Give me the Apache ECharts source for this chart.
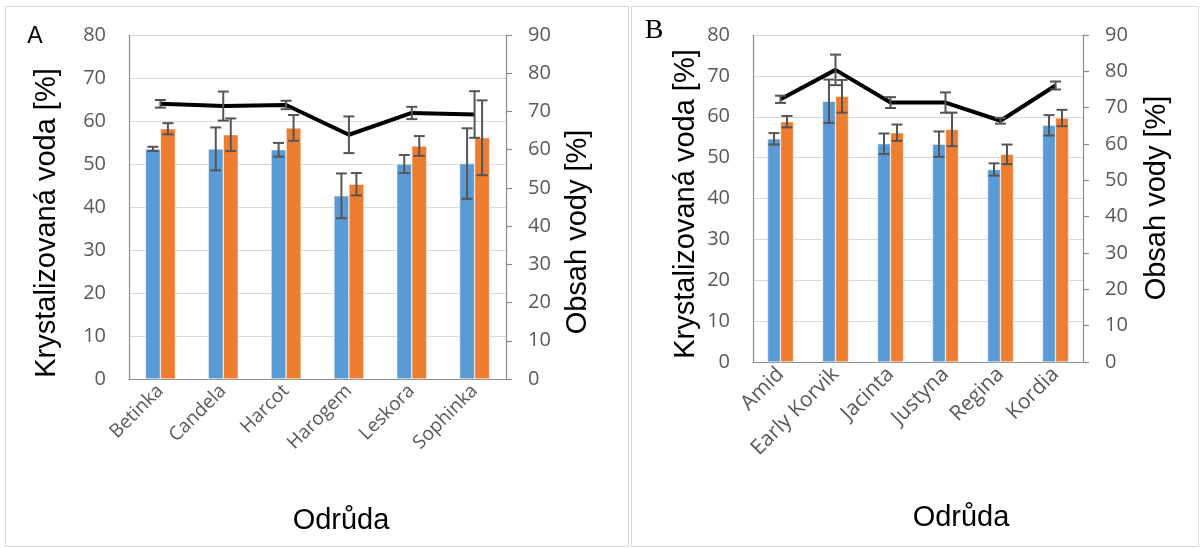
<!DOCTYPE html>
<html>
<head>
<meta charset="utf-8">
<script src="https://cdn.jsdelivr.net/npm/echarts@6/dist/echarts.min.js"></script>
<style>
html,body{margin:0;padding:0;background:#fff;}
#c{width:1200px;height:548px;}
</style>
</head>
<body>
<div id="c"></div>
<script>
// ---- Panel A data ----
var catA = ['Betinka','Candela','Harcot','Harogem','Leskora','Sophinka'];
var blueA = [53.5, 53.5, 53.3, 42.6, 50.0, 50.1];
var blueErrA = [0.5, 5.0, 1.6, 5.2, 2.1, 8.2];
var orangeA = [58.2, 56.8, 58.4, 45.3, 54.2, 56.1];
var orangeErrA = [1.3, 3.8, 3.0, 2.6, 2.3, 8.7];
var lineA = [72.0, 71.4, 71.7, 63.9, 69.6, 69.2];
var lineErrA = [1.0, 3.8, 1.1, 4.8, 1.6, 6.1];

// ---- Panel B data ----
var catB = ['Amid','Early Korvik','Jacinta','Justyna','Regina','Kordia'];
var blueB = [54.6, 63.8, 53.4, 53.3, 47.1, 57.9];
var blueErrB = [1.4, 5.3, 2.5, 3.1, 1.5, 2.5];
var orangeB = [58.8, 65.0, 56.1, 56.9, 50.8, 59.7];
var orangeErrB = [1.4, 4.0, 2.0, 4.1, 2.4, 2.0];
var lineB = [72.3, 80.4, 71.4, 71.4, 66.4, 76.1];
var lineErrB = [1.0, 4.2, 1.5, 2.8, 0.8, 1.1];

var leftTicks = {min: 0, max: 80, interval: 10};
var rightTicks = {min: 0, max: 90, interval: 10};

var BLUE = '#5B9BD5', ORANGE = '#ED7D31', ERR = '#555555', AXIS = '#8c8c8c', GRIDC = '#d9d9d9', LBL = '#595959';
var NUMFONT = '"Open Sans", sans-serif';

function errData(vals, errs) {
  return vals.map(function (v, i) { return [i, v, errs[i]]; });
}
function errSeries(xi, yi, vals, errs, offset, cap, z) {
  return {
    type: 'custom', xAxisIndex: xi, yAxisIndex: yi, z: z,
    data: errData(vals, errs),
    renderItem: function (params, api) {
      var i = api.value(0), v = api.value(1), e = api.value(2);
      var top = api.coord([i, v + e]);
      var bot = api.coord([i, v - e]);
      var x = top[0] + offset;
      var st = {stroke: ERR, lineWidth: 2};
      return {type: 'group', children: [
        {type: 'line', shape: {x1: x, y1: top[1], x2: x, y2: bot[1]}, style: st},
        {type: 'line', shape: {x1: x - cap, y1: top[1], x2: x + cap, y2: top[1]}, style: st},
        {type: 'line', shape: {x1: x - cap, y1: bot[1], x2: x + cap, y2: bot[1]}, style: st}
      ]};
    }
  };
}

function xAxisDef(gi, cats, fs) {
  return {
    type: 'category', gridIndex: gi, data: cats,
    axisLine: {show: true, lineStyle: {color: AXIS, width: 1.2}},
    axisTick: {show: false},
    axisLabel: {rotate: 45, fontSize: fs, color: LBL, fontFamily: NUMFONT, margin: 9, interval: 0},
    splitLine: {show: false}
  };
}
function yLeft(gi) {
  return {
    type: 'value', gridIndex: gi, position: 'left',
    min: leftTicks.min, max: leftTicks.max, interval: leftTicks.interval,
    axisLine: {show: true, lineStyle: {color: AXIS, width: 1.2}},
    axisTick: {show: false},
    axisLabel: {fontSize: 20, color: LBL, fontFamily: NUMFONT, margin: 23},
    splitLine: {show: true, lineStyle: {color: GRIDC, width: 1.2}}
  };
}
function yRight(gi) {
  return {
    type: 'value', gridIndex: gi, position: 'right',
    min: rightTicks.min, max: rightTicks.max, interval: rightTicks.interval,
    axisLine: {show: true, lineStyle: {color: AXIS, width: 1.2}},
    axisTick: {show: true, inside: false, length: 6, lineStyle: {color: AXIS, width: 1.2}},
    axisLabel: {fontSize: 20, color: LBL, fontFamily: NUMFONT, margin: 22},
    splitLine: {show: false}
  };
}

var bwA = 15, bwB = 13;

var titleFont = '"Liberation Sans", Arial, sans-serif';
function vtext(x, y, txt, rot) {
  return {type: 'text', x: x, y: y, rotation: rot, style: {text: txt, fill: '#000', font: '29px ' + titleFont, textAlign: 'center', textVerticalAlign: 'middle'}};
}

var option = {
  animation: false,
  backgroundColor: '#fff',
  grid: [
    {left: 129, right: 694, top: 35, bottom: 169},
    {left: 753, right: 117, top: 35, bottom: 186}
  ],
  xAxis: [xAxisDef(0, catA, 19), xAxisDef(1, catB, 21)],
  yAxis: [yLeft(0), yRight(0), yLeft(1), yRight(1)],
  series: [
    {name: 'A modrá', type: 'bar', xAxisIndex: 0, yAxisIndex: 0, data: blueA, barWidth: bwA, barGap: '0%', itemStyle: {color: BLUE, borderColor: '#fff', borderWidth: 0.5}},
    {name: 'A oranžová', type: 'bar', xAxisIndex: 0, yAxisIndex: 0, data: orangeA, barWidth: bwA, barGap: '0%', itemStyle: {color: ORANGE, borderColor: '#fff', borderWidth: 0.5}},
    errSeries(0, 0, blueA, blueErrA, -bwA / 2, 5.5, 3),
    errSeries(0, 0, orangeA, orangeErrA, bwA / 2, 5.5, 3),
    {name: 'A obsah vody', type: 'line', xAxisIndex: 0, yAxisIndex: 1, data: lineA, symbol: 'none', z: 4, lineStyle: {color: '#000', width: 4}},
    errSeries(0, 1, lineA, lineErrA, 0, 5.5, 5),

    {name: 'B modrá', type: 'bar', xAxisIndex: 1, yAxisIndex: 2, data: blueB, barWidth: bwB, barGap: '0%', itemStyle: {color: BLUE, borderColor: '#fff', borderWidth: 0.5}},
    {name: 'B oranžová', type: 'bar', xAxisIndex: 1, yAxisIndex: 2, data: orangeB, barWidth: bwB, barGap: '0%', itemStyle: {color: ORANGE, borderColor: '#fff', borderWidth: 0.5}},
    errSeries(1, 2, blueB, blueErrB, -bwB / 2, 5.5, 3),
    errSeries(1, 2, orangeB, orangeErrB, bwB / 2, 5.5, 3),
    {name: 'B obsah vody', type: 'line', xAxisIndex: 1, yAxisIndex: 3, data: lineB, symbol: 'none', z: 4, lineStyle: {color: '#000', width: 4}},
    errSeries(1, 3, lineB, lineErrB, 0, 5.5, 5)
  ],
  graphic: [
    {type: 'rect', shape: {x: 5.5, y: 6.5, width: 623, height: 540}, style: {fill: 'none', stroke: '#d9d9d9', lineWidth: 1}, z: -10},
    {type: 'rect', shape: {x: 631.5, y: 6.5, width: 567, height: 540}, style: {fill: 'none', stroke: '#d9d9d9', lineWidth: 1}, z: -10},
    {type: 'text', x: 35, y: 37, style: {text: 'A', fill: '#000', font: '23px ' + titleFont, textAlign: 'center', textVerticalAlign: 'middle'}},
    {type: 'text', x: 654, y: 31, style: {text: 'B', fill: '#000', font: '28px "Liberation Serif", serif', textAlign: 'center', textVerticalAlign: 'middle'}},
    vtext(47, 223, 'Krystalizovaná voda [%]', Math.PI / 2),
    vtext(578, 232, 'Obsah vody [%]', Math.PI / 2),
    vtext(686, 204, 'Krystalizovaná voda [%]', Math.PI / 2),
    vtext(1157, 198, 'Obsah vody [%]', Math.PI / 2),
    {type: 'text', x: 341, y: 521, style: {text: 'Odrůda', fill: '#000', font: '29px ' + titleFont, textAlign: 'center', textVerticalAlign: 'middle'}},
    {type: 'text', x: 961, y: 518, style: {text: 'Odrůda', fill: '#000', font: '29px ' + titleFont, textAlign: 'center', textVerticalAlign: 'middle'}}
  ]
};

var chart = echarts.init(document.getElementById('c'), null, {renderer: 'canvas'});
chart.setOption(option);
</script>
</body>
</html>
